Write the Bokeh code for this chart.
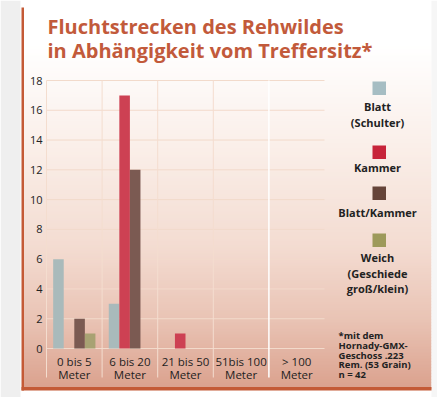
from bokeh.plotting import figure
from bokeh.models import Range1d, BoxAnnotation, Label, ColumnDataSource
from bokeh.transform import dodge
from bokeh.core.properties import value
from bokeh.embed import file_html
from bokeh.resources import INLINE

# ---------------- data ----------------
categories = ["0 bis 5", "6 bis 20", "21 bis 50", "51bis 100", "> 100"]
unit_label = "Meter"
series_names = ["Blatt\n(Schulter)", "Kammer", "Blatt/Kammer", "Weich\n(Geschiede\ngroß/klein)"]
blatt = [6, 3, 0, 0, 0]
kammer = [0, 17, 1, 0, 0]
blatt_kammer = [2, 12, 0, 0, 0]
weich = [1, 0, 0, 0, 0]
y_ticks = [0, 2, 4, 6, 8, 10, 12, 14, 16, 18]
y_tick_labels = [str(t) for t in y_ticks]
title_lines = ["Fluchtstrecken des Rehwildes", "in Abhängigkeit vom Treffersitz*"]
footnote_lines = ["*mit dem", "Hornady-GMX-", "Geschoss .223", "Rem. (53 Grain)", "n = 42"]

bar_colors = ["#a9babb", "#cd4153", "#7b5a52", "#a8a273"]
legend_colors = ["#a6bdc3", "#c7243a", "#654439", "#9d9a5b"]

# ---------------- layout (pixels) ----------------
W, H = 437, 397
PLOT_L, PLOT_R, PLOT_T, PLOT_B = 46, 324, 80, 348
YMAX = 18
n = len(categories)
ux = (PLOT_R - PLOT_L) / n
uy = (PLOT_B - PLOT_T) / YMAX


def sy(py):  # page y (from top) -> screen y (from bottom)
    return H - py


def dy(py):  # page y -> data y
    return (PLOT_B - py) / uy


p = figure(x_range=Range1d(-PLOT_L / ux, (W - PLOT_L) / ux),
           y_range=Range1d(-(H - PLOT_B) / uy, PLOT_B / uy),
           width=W, height=H, output_backend="svg", toolbar_location=None,
           x_axis_type=None, y_axis_type=None, min_border=0, title=None)
p.background_fill_color = "#ffffff"
p.border_fill_color = "#ffffff"
p.outline_line_color = None

# ---------------- background gradient ----------------
stops = [(0, (255, 255, 255)), (45, (255, 255, 255)), (150, (250, 238, 232)),
         (250, (243, 219, 208)), (320, (233, 195, 180)), (390, (218, 160, 140))]


def grad(y):
    for (y0, c0), (y1, c1) in zip(stops[:-1], stops[1:]):
        if y0 <= y <= y1:
            t = (y - y0) / (y1 - y0)
            return "#%02x%02x%02x" % tuple(int(round(a + (b - a) * t)) for a, b in zip(c0, c1))
    return "#%02x%02x%02x" % stops[-1][1]


def sbox(l, r, t, b, color, level="image"):
    p.add_layout(BoxAnnotation(left=l, right=r, top=sy(t), bottom=sy(b),
                               left_units="screen", right_units="screen",
                               top_units="screen", bottom_units="screen",
                               fill_color=color, fill_alpha=1, line_color=None, level=level))


step = 3
yy = 40
while yy < 388:
    y2 = min(yy + step, 388)
    sbox(22, 431, yy, y2 + 0.6, grad((yy + y2) / 2))
    yy = y2

# left grey strip, right white strip
sbox(0, 20, 0, H, "#efefef")
sbox(431, W, 0, H, "#f6f6f6")
# orange frame lines
sbox(21, 23.5, 7, 390, "#c45a36")
sbox(21, 431, 386.5, 390, "#c45a36")

# ---------------- grid ----------------
p.segment(x0=0, x1=n, y0=y_ticks, y1=y_ticks, line_color="#f2dacb", line_width=1)
bounds = list(range(n))
p.segment(x0=bounds, x1=bounds, y0=YMAX, y1=dy(377),
          line_color=["#f4ddcf"] * (n - 1) + ["#ffffff"],
          line_width=[1] * (n - 1) + [1.5])

# ---------------- bars ----------------
src = ColumnDataSource(dict(xc=[i + 0.5 for i in range(n)], blatt=blatt, kammer=kammer,
                            bk=blatt_kammer, weich=weich))
w = 0.19
cols = ["blatt", "kammer", "bk", "weich"]
offs = [-0.285, -0.095, 0.095, 0.285]
for col, off, c in zip(cols, offs, bar_colors):
    p.vbar(x=dodge("xc", off), top=col, bottom=0, width=w, source=src,
           fill_color=c, line_color=None)

# ---------------- tick labels ----------------
p.text(x=[0] * len(y_ticks), y=y_ticks, text=y_tick_labels, x_offset=-4,
       text_align="right", text_baseline="middle", text_font=value("Open Sans"),
       text_font_size="11px", text_color="#222222")
p.text(x=src.data["xc"], y=[0] * n, text=categories, y_offset=13,
       text_align="center", text_baseline="middle", text_font=value("Open Sans"),
       text_font_size="11.5px", text_color="#1e1e1e")
p.text(x=src.data["xc"], y=[0] * n, text=[unit_label] * n, y_offset=25.5,
       text_align="center", text_baseline="middle", text_font=value("Open Sans"),
       text_font_size="11.5px", text_color="#1e1e1e")

# ---------------- title ----------------
for txt, base in zip(title_lines, [26, 50]):
    p.add_layout(Label(x=47, y=sy(base), x_units="screen", y_units="screen",
                       text=txt, text_font="Open Sans", text_font_size="20px",
                       text_font_style="bold", text_color="#c25a3b",
                       text_baseline="alphabetic", text_align="left"))

# ---------------- legend ----------------
sq_tops = [81, 145, 186, 233]
text_centers = [[105.5, 121.5], [166.7], [211.5], [256.5, 272.5, 288]]
for name, c, top, tcs in zip(series_names, legend_colors, sq_tops, text_centers):
    sbox(372, 385.5, top, top + 13.5, c, level="annotation")
    for line, tc in zip(name.split("\n"), tcs):
        p.add_layout(Label(x=377, y=sy(tc), x_units="screen", y_units="screen",
                           text=line, text_font="Open Sans", text_font_size="11px",
                           text_font_style="bold", text_color="#222222",
                           text_baseline="middle", text_align="center"))

# ---------------- footnote ----------------
for line, tc in zip(footnote_lines, [335, 345, 354.5, 364, 374]):
    p.add_layout(Label(x=338, y=sy(tc), x_units="screen", y_units="screen",
                       text=line, text_font="Open Sans", text_font_size="9.5px",
                       text_font_style="bold", text_color="#222222",
                       text_baseline="middle", text_align="left"))

open("out.html", "w").write(file_html(p, INLINE))
